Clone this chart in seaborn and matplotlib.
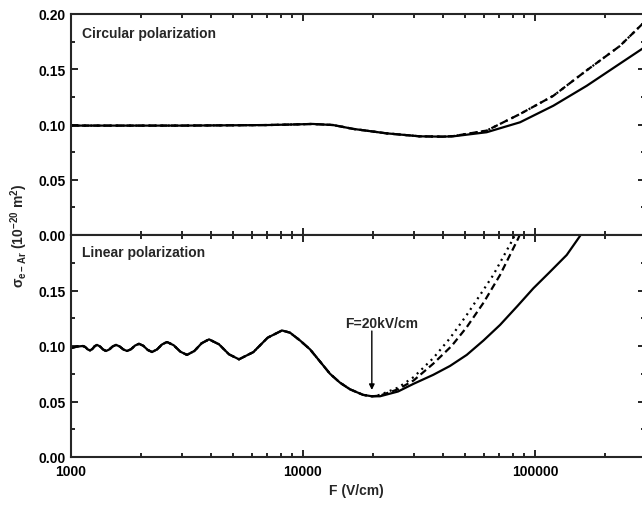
import numpy as np
import pandas as pd
import matplotlib
matplotlib.use("Agg")
import matplotlib.pyplot as plt
from matplotlib.ticker import FixedLocator, MultipleLocator, LogLocator, NullFormatter
import seaborn as sns

# ---------------- data ----------------
# Circular polarization (top panel)
F_circ_solid = [1000, 3000, 7000, 9000, 11000, 13500, 16480, 22900, 31900, 40000, 44400,
                61900, 86200, 120000, 167000, 232000, 297000]
sig_circ_solid = [0.099, 0.099, 0.0995, 0.100, 0.1005, 0.0995, 0.096, 0.092, 0.0893, 0.089, 0.0893,
                  0.093, 0.102, 0.117, 0.135, 0.155, 0.170]
F_circ_dash = [1000, 3000, 7000, 9000, 11000, 13500, 16480, 22900, 31900, 40000, 44400,
               61900, 86200, 120000, 167000, 232000, 297000]
sig_circ_dash = [0.099, 0.099, 0.0995, 0.100, 0.1005, 0.0995, 0.096, 0.092, 0.0893, 0.089, 0.0895,
                 0.0945, 0.1095, 0.126, 0.149, 0.171, 0.193]
F_circ_dot = F_circ_dash
sig_circ_dot = sig_circ_dash

# Linear polarization (bottom panel): common oscillating part
F_lin_common = [1000, 1061, 1127, 1153, 1180, 1208, 1236, 1265, 1294, 1334, 1374, 1416, 1463,
                1512, 1563, 1621, 1681, 1744, 1814, 1888, 1964, 2050, 2140, 2234, 2348, 2468,
                2593, 2770, 2960, 3162, 3401, 3658, 3935, 4345, 4798, 5298, 6108, 7043, 8120,
                8790, 9707, 10720, 11840, 13070, 14430, 15940, 18140, 19830]
sig_lin_common = [0.098, 0.0995, 0.100, 0.099, 0.097, 0.096, 0.0973, 0.0998, 0.101, 0.0996,
                  0.0969, 0.0955, 0.0969, 0.0996, 0.101, 0.0996, 0.0969, 0.0955, 0.0971, 0.1004,
                  0.102, 0.1002, 0.0965, 0.0946, 0.0969, 0.1014, 0.1036, 0.1007, 0.0949, 0.092,
                  0.0955, 0.1025, 0.106, 0.1015, 0.0925, 0.088, 0.0945, 0.1075, 0.114,
                  0.112, 0.105, 0.097, 0.086, 0.075, 0.067, 0.061, 0.056, 0.0547]
# tails after the minimum
F_lin_solid_tail = [21470, 25680, 30000, 36400, 43000, 50800, 60000, 70700, 84000, 98400,
                    115000, 137000, 153800, 175000]
sig_lin_solid_tail = [0.0547, 0.059, 0.066, 0.074, 0.082, 0.092, 0.105, 0.119, 0.136, 0.152,
                      0.166, 0.182, 0.197, 0.214]
F_lin_dash_tail = [21470, 25680, 30000, 36400, 43700, 50800, 60000, 70700, 84700, 95000]
sig_lin_dash_tail = [0.0553, 0.061, 0.069, 0.084, 0.100, 0.117, 0.139, 0.164, 0.197, 0.222]
F_lin_dot_tail = [21470, 25680, 30000, 36400, 43000, 50800, 58000, 66100, 80700, 90000]
sig_lin_dot_tail = [0.056, 0.0625, 0.072, 0.089, 0.107, 0.128, 0.146, 0.164, 0.197, 0.222]

y_ticks = [0.00, 0.05, 0.10, 0.15, 0.20]
y_labels_top = ["0.00", "0.05", "0.10", "0.15", "0.20"]
y_labels_bottom = ["0.00", "0.05", "0.10", "0.15", ""]
x_ticks = [1000, 10000, 100000]
x_labels = ["1000", "10000", "100000"]

# ---------------- styling ----------------
sns.set_style("ticks")
plt.rcParams["font.family"] = ["Liberation Sans", "DejaVu Sans"]
plt.rcParams["font.weight"] = "bold"
plt.rcParams["mathtext.fontset"] = "custom"
plt.rcParams["mathtext.rm"] = "Liberation Sans:bold"
plt.rcParams["mathtext.it"] = "Liberation Sans:bold"
plt.rcParams["mathtext.bf"] = "Liberation Sans:bold"

W, H = 642, 506
fig = plt.figure(figsize=(W / 100, H / 100), dpi=100)
left = 71 / W
right = 645 / W
ax_top = fig.add_axes([left, 1 - 236 / H, right - left, (236 - 15) / H])
ax_bot = fig.add_axes([left, 1 - 458 / H, right - left, (458 - 236) / H])

x_max = 1000 * 10 ** ((645 - 71) / 232)

lw = 1.6
solid = dict(color="black", linewidth=lw, linestyle="-")
dashed = dict(color="black", linewidth=lw, linestyle=(0, (3.2, 1.8)))
dotted = dict(color="black", linewidth=lw, linestyle=(0, (0.9, 2.0)))


def draw(ax, F, s, style):
    df = pd.DataFrame({"F": F, "sigma": s})
    sns.lineplot(data=df, x="F", y="sigma", ax=ax, estimator=None, sort=False, **style)


draw(ax_top, F_circ_solid, sig_circ_solid, solid)
draw(ax_top, F_circ_dash, sig_circ_dash, dashed)
draw(ax_top, F_circ_dot, sig_circ_dot, dotted)

draw(ax_bot, F_lin_common + F_lin_solid_tail, sig_lin_common + sig_lin_solid_tail, solid)
draw(ax_bot, F_lin_common + F_lin_dash_tail, sig_lin_common + sig_lin_dash_tail, dashed)
draw(ax_bot, F_lin_common + F_lin_dot_tail, sig_lin_common + sig_lin_dot_tail, dotted)

for ax, ylabels in ((ax_top, y_labels_top), (ax_bot, y_labels_bottom)):
    ax.set_xscale("log")
    ax.set_xlim(1000, x_max)
    ax.set_ylim(0, 0.20)
    ax.set_xlabel("")
    ax.set_ylabel("")
    ax.yaxis.set_major_locator(FixedLocator(y_ticks))
    ax.set_yticklabels(ylabels)
    ax.yaxis.set_minor_locator(MultipleLocator(0.025))
    ax.xaxis.set_major_locator(FixedLocator(x_ticks))
    ax.xaxis.set_minor_locator(LogLocator(base=10, subs=np.arange(2, 10)))
    ax.xaxis.set_minor_formatter(NullFormatter())
    for sp in ax.spines.values():
        sp.set_visible(True)
        sp.set_linewidth(1.5)
    ax.tick_params(which="both", direction="in", top=True, right=True, width=1.2,
                   labelsize=10, colors="black")
    ax.tick_params(which="major", length=5, pad=4)
    ax.tick_params(which="minor", length=3)
    for lab in ax.get_yticklabels():
        lab.set_fontweight("bold")

ax_top.set_xticklabels([])
ax_bot.set_xticklabels(x_labels)
for lab in ax_bot.get_xticklabels():
    lab.set_fontweight("bold")
ax_bot.tick_params(axis="x", pad=5)

ax_top.text(0.019, 0.896, "Circular polarization", transform=ax_top.transAxes,
            fontsize=10, fontweight="bold", va="baseline", ha="left")
ax_bot.text(0.019, 0.905, "Linear polarization", transform=ax_bot.transAxes,
            fontsize=10, fontweight="bold", va="baseline", ha="left")

ax_bot.annotate("", xy=(19800, 0.0604), xytext=(19800, 0.1135),
                arrowprops=dict(arrowstyle="-|>", color="black", lw=1.0,
                                mutation_scale=8, shrinkA=0, shrinkB=0))
ax_bot.text(21850, 0.117, "F=20kV/cm", fontsize=10, fontweight="bold",
            ha="center", va="baseline")

fig.text((71 + 642) / 2 / W, 1 - 491 / H, "F (V/cm)", fontsize=10, fontweight="bold",
         ha="center", va="center")
fig.text(19 / W, 1 - 236 / H,
         "σ$_{\\mathregular{e-Ar}}$ (10$^{\\mathregular{-20}}$ m$^{\\mathregular{2}}$)",
         rotation=90, fontsize=10, fontweight="bold", ha="center", va="center")

fig.savefig("out.png", dpi=100, facecolor="white")
